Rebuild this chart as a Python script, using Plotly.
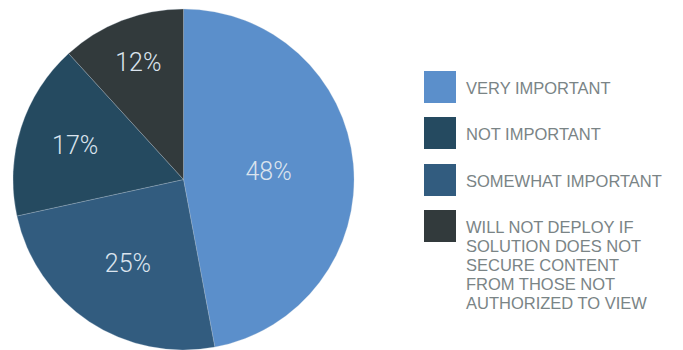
import plotly.graph_objects as go

# Data (slice order: clockwise from 12 o'clock)
categories = ["VERY IMPORTANT", "SOMEWHAT IMPORTANT", "NOT IMPORTANT",
              "WILL NOT DEPLOY IF<br>SOLUTION DOES NOT<br>SECURE CONTENT<br>FROM THOSE NOT<br>AUTHORIZED TO VIEW"]
values = [48, 25, 17, 12]
slice_colors = ["#5b8fcb", "#325c7f", "#254a60", "#323a3c"]
# legend order as shown in the reference
legend_order = [0, 2, 1, 3]

W, H = 683, 350

fig = go.Figure()
fig.add_trace(go.Pie(
    labels=categories,
    values=values,
    text=[f"{v}%" for v in values],
    textinfo="text",
    textposition="inside",
    insidetextorientation="horizontal",
    insidetextfont=dict(family="Roboto", size=25, color="#dbe4ee", weight=300),
    marker=dict(colors=slice_colors, line=dict(color="rgba(190,205,220,0.45)", width=0.6)),
    sort=False,
    direction="clockwise",
    rotation=0,
    hoverinfo="label+text",
    showlegend=False,
    domain=dict(x=[13 / W, 354 / W], y=[0, 1 - 9 / H]),
))

# Manual legend
sq_x0, sq_size = 424, 32
row_tops = [71, 117, 164, 210]
text_x = 464
line_gap = 18.9
shapes = []
annotations = []
for row, idx in enumerate(legend_order):
    top = row_tops[row]
    shapes.append(dict(type="rect", xref="paper", yref="paper",
                       x0=sq_x0 / W, x1=(sq_x0 + sq_size) / W,
                       y0=1 - (top + sq_size) / H, y1=1 - top / H,
                       fillcolor=slice_colors[idx], line=dict(width=0), layer="above"))
    lines = categories[idx].split("<br>")
    first_center = top + 17
    for k, ln in enumerate(lines):
        cy = first_center + k * line_gap
        annotations.append(dict(text=ln, xref="paper", yref="paper",
                                x=text_x / W, y=1 - cy / H,
                                xanchor="left", yanchor="middle", showarrow=False,
                                font=dict(family="Liberation Sans", size=16.5, color="#7a8486")))

fig.update_layout(
    width=W, height=H,
    margin=dict(l=0, r=0, t=0, b=0),
    paper_bgcolor="white",
    plot_bgcolor="white",
    shapes=shapes,
    annotations=annotations,
)

fig.write_html("out.html")
